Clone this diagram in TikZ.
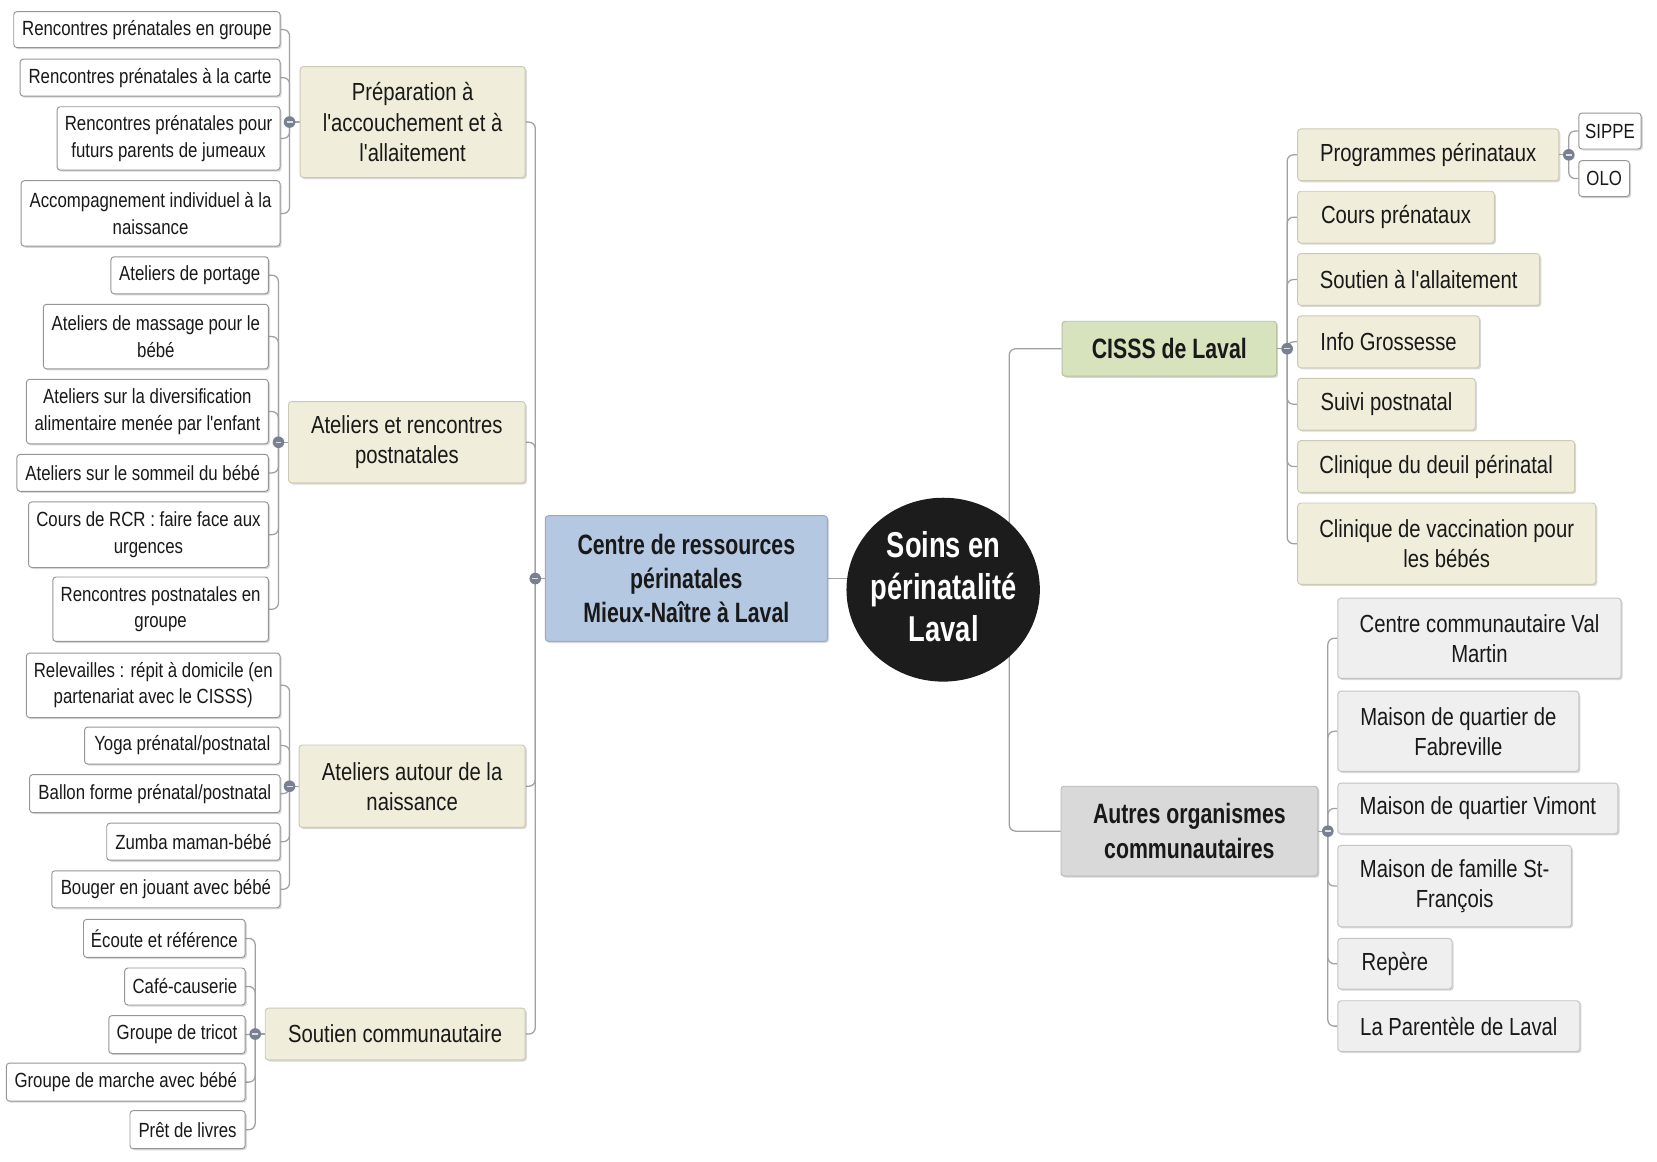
\documentclass[tikz,border=0pt]{standalone}
\usepackage{fontspec}
\setmainfont{Liberation Sans}[FakeStretch=0.82,Ligatures=TeXOff]
\newfontfamily\nbold{Liberation Sans}[FakeStretch=0.76,Ligatures=TeXOff]
\usetikzlibrary{shapes.geometric,backgrounds,shadows}
\definecolor{leafborder}{RGB}{150,150,150}
\definecolor{beige}{RGB}{240,238,218}
\definecolor{beigeborder}{RGB}{205,202,180}
\definecolor{bluebox}{RGB}{181,200,225}
\definecolor{greenbox}{RGB}{214,227,188}
\definecolor{graybox}{RGB}{217,217,217}
\definecolor{lightgray}{RGB}{239,239,239}
\definecolor{grayborder}{RGB}{195,195,195}
\definecolor{connc}{RGB}{160,160,165}
\definecolor{dotc}{RGB}{120,128,145}
\definecolor{circc}{RGB}{28,28,28}
\tikzset{
  sz/.style 2 args={minimum width=#1pt,minimum height=#2pt},
  shad/.style={drop shadow={shadow xshift=1.5pt,shadow yshift=-1.5pt,opacity=0.25,fill=black!60}},
  base/.style={rectangle,rounded corners=3pt,inner sep=0pt,align=center,text=black!90,shad},
  leaf/.style={base,draw=leafborder,fill=white,line width=0.9pt,font=\fontsize{19.4}{25}\selectfont},
  lvl/.style={base,draw=beigeborder,fill=beige,line width=0.9pt,font=\fontsize{23.4}{28.5}\selectfont},
  gleaf/.style={base,draw=grayborder,fill=lightgray,line width=0.9pt,font=\fontsize{23.4}{28.5}\selectfont},
  main/.style={base,line width=0.9pt,font=\nbold\bfseries\fontsize{26.5}{32.5}\selectfont},
  conn/.style={draw=connc,line width=1.2pt,rounded corners=6pt},
  dotn/.style={circle,fill=dotc,inner sep=0pt,minimum size=11pt,
    path picture={\draw[white!75!dotc,line width=1.3pt] ([xshift=-2.8pt]path picture bounding box.center) -- ([xshift=2.8pt]path picture bounding box.center);}},
}
\begin{document}
\begin{tikzpicture}[x=1pt,y=-1pt]
\useasboundingbox (0,0) rectangle (1568,1099);

% center
\node[ellipse,fill=circc,minimum width=183pt,minimum height=174pt,inner sep=0pt] (circ) at (892.5,558) {};
\node[align=center,text=white,inner sep=0pt,
  font=\nbold\bfseries\fontsize{34}{39.5}\selectfont] (circt) at (893,555) {Soins en\\périnatalité\\Laval};
\node[main,fill=bluebox,draw=bluebox!85!black,sz={267}{119}] (blue) at (649.5,547.5) {Centre de ressources\\périnatales\\Mieux-Naître à Laval};

% level 1 left
\node[lvl,sz={213}{105}] (prep) at (390.5,115.5) {Préparation à\\l'accouchement et à\\l'allaitement};
\node[lvl,sz={224}{77}] (post) at (385,418.5) {Ateliers et rencontres\\postnatales};
\node[lvl,sz={214}{78}] (naiss) at (390,744) {Ateliers autour de la\\naissance};
\node[lvl,sz={246}{49}] (sout) at (374,978.5) {Soutien communautaire};

% group 1
\node[leaf,sz={252}{34}] (g1a) at (139,28) {Rencontres prénatales en groupe};
\node[leaf,sz={246}{35}] (g1b) at (142,73.5) {Rencontres prénatales à la carte};
\node[leaf,sz={211}{60}] (g1c) at (159.5,131) {Rencontres prénatales pour\\futurs parents de jumeaux};
\node[leaf,sz={245}{62}] (g1d) at (142.5,202) {Accompagnement individuel à la\\naissance};
% group 2
\node[leaf,sz={149}{35}] (g2a) at (179.5,260.5) {Ateliers de portage};
\node[leaf,sz={213}{61}] (g2b) at (147.5,318.5) {Ateliers de massage pour le\\bébé};
\node[leaf,sz={229}{61}] (g2c) at (139.5,389.5) {Ateliers sur la diversification\\alimentaire menée par l'enfant};
\node[leaf,sz={238}{35}] (g2d) at (135,447.5) {Ateliers sur le sommeil du bébé};
\node[leaf,sz={227}{62}] (g2e) at (140.5,506) {Cours de RCR : faire face aux\\urgences};
\node[leaf,sz={204}{61}] (g2f) at (152,576.5) {Rencontres postnatales en\\groupe};
% group 3
\node[leaf,sz={240}{61}] (g3a) at (145,648.5) {Relevailles : répit à domicile (en\\partenariat avec le CISSS)};
\node[leaf,sz={185}{35}] (g3b) at (172.5,705.5) {Yoga prénatal/postnatal};
\node[leaf,sz={237}{36}] (g3c) at (146.5,751) {Ballon forme prénatal/postnatal};
\node[leaf,sz={164}{35}] (g3d) at (183,796.5) {Zumba maman-bébé};
\node[leaf,sz={216}{35}] (g3e) at (157,841.5) {Bouger en jouant avec bébé};
% group 4
\node[leaf,sz={153}{36}] (g4a) at (155.5,888) {Écoute et référence};
\node[leaf,sz={114}{35}] (g4b) at (175,933.5) {Café-causerie};
\node[leaf,sz={129}{36}] (g4c) at (167.5,979) {Groupe de tricot};
\node[leaf,sz={226}{36}] (g4d) at (119,1024) {Groupe de marche avec bébé};
\node[leaf,sz={109}{36}] (g4e) at (177.5,1069) {Prêt de livres};

% right main
\node[main,fill=greenbox,draw=greenbox!85!black,sz={203}{52}] (cisss) at (1106.5,330) {CISSS de Laval};
\node[main,fill=graybox,draw=graybox!85!black,sz={243}{85}] (autres) at (1125.5,786.5) {Autres organismes\\communautaires};

% CISSS children
\node[lvl,sz={247}{49}] (c1) at (1351.5,146.5) {Programmes périnataux};
\node[lvl,sz={186}{49}] (c2) at (1321,205.5) {Cours prénataux};
\node[lvl,sz={229}{49}] (c3) at (1342.5,264.5) {Soutien à l'allaitement};
\node[lvl,sz={172}{49}] (c4) at (1314,323.5) {Info Grossesse};
\node[lvl,sz={168}{49}] (c5) at (1312,382.5) {Suivi postnatal};
\node[lvl,sz={262}{49}] (c6) at (1359,441.5) {Clinique du deuil périnatal};
\node[lvl,sz={282}{77}] (c7) at (1369,514.5) {Clinique de vaccination pour\\les bébés};
\node[leaf,sz={59}{34}] (sippe) at (1523.5,124) {SIPPE};
\node[leaf,sz={48}{34}] (olo) at (1518,169) {OLO};

% Autres children
\node[gleaf,sz={268}{76}] (a1) at (1400,604) {Centre communautaire Val\\Martin};
\node[gleaf,sz={228}{76}] (a2) at (1380,692) {Maison de quartier de\\Fabreville};
\node[gleaf,sz={265}{48}] (a3) at (1398.5,765) {Maison de quartier Vimont};
\node[gleaf,sz={221}{77}] (a4) at (1376.5,838.5) {Maison de famille St-\\François};
\node[gleaf,sz={108}{48}] (a5) at (1320,912) {Repère};
\node[gleaf,sz={229}{48}] (a6) at (1380.5,971) {La Parentèle de Laval};

% dots
\node[dotn] (dm) at (506.5,547.5) {};
\node[dotn] (d1) at (274,115.5) {};
\node[dotn] (d2) at (263.5,418.5) {};
\node[dotn] (d3) at (274,744) {};
\node[dotn] (d4) at (241.5,978.5) {};
\node[dotn] (dc) at (1218,330) {};
\node[dotn] (dp) at (1484.5,146.5) {};
\node[dotn] (da) at (1256.5,786.5) {};
\coordinate (rj) at (955,558);

\begin{scope}[on background layer]
\fill[white] (0,0) rectangle (1568,1099);
\draw[conn] (blue.east) -- (circ.center |- blue.east);
\draw[conn] (dm.center) -- (blue.west);
\foreach \n in {prep,post,naiss,sout} \draw[conn] (\n.east) -| (dm.center);
\draw[conn] (prep.west) -- (d1.center);
\foreach \n in {g1a,g1b,g1c,g1d} \draw[conn] (\n.east) -| (d1.center);
\draw[conn] (post.west) -- (d2.center);
\foreach \n in {g2a,g2b,g2c,g2d,g2e,g2f} \draw[conn] (\n.east) -| (d2.center);
\draw[conn] (naiss.west) -- (d3.center);
\foreach \n in {g3a,g3b,g3c,g3d,g3e} \draw[conn] (\n.east) -| (d3.center);
\draw[conn] (sout.west) -- (d4.center);
\foreach \n in {g4a,g4b,g4c,g4d,g4e} \draw[conn] (\n.east) -| (d4.center);
\draw[conn] (cisss.west) -| (rj);
\draw[conn] (autres.west) -| (rj);
\draw[conn] (cisss.east) -- (dc.center);
\foreach \n in {c1,c2,c3,c4,c5,c6,c7} \draw[conn] (\n.west) -| (dc.center);
\draw[conn] (c1.east) -- (dp.center);
\foreach \n in {sippe,olo} \draw[conn] (\n.west) -| (dp.center);
\draw[conn] (autres.east) -- (da.center);
\foreach \n in {a1,a2,a3,a4,a5,a6} \draw[conn] (\n.west) -| (da.center);
\end{scope}
\end{tikzpicture}
\end{document}
